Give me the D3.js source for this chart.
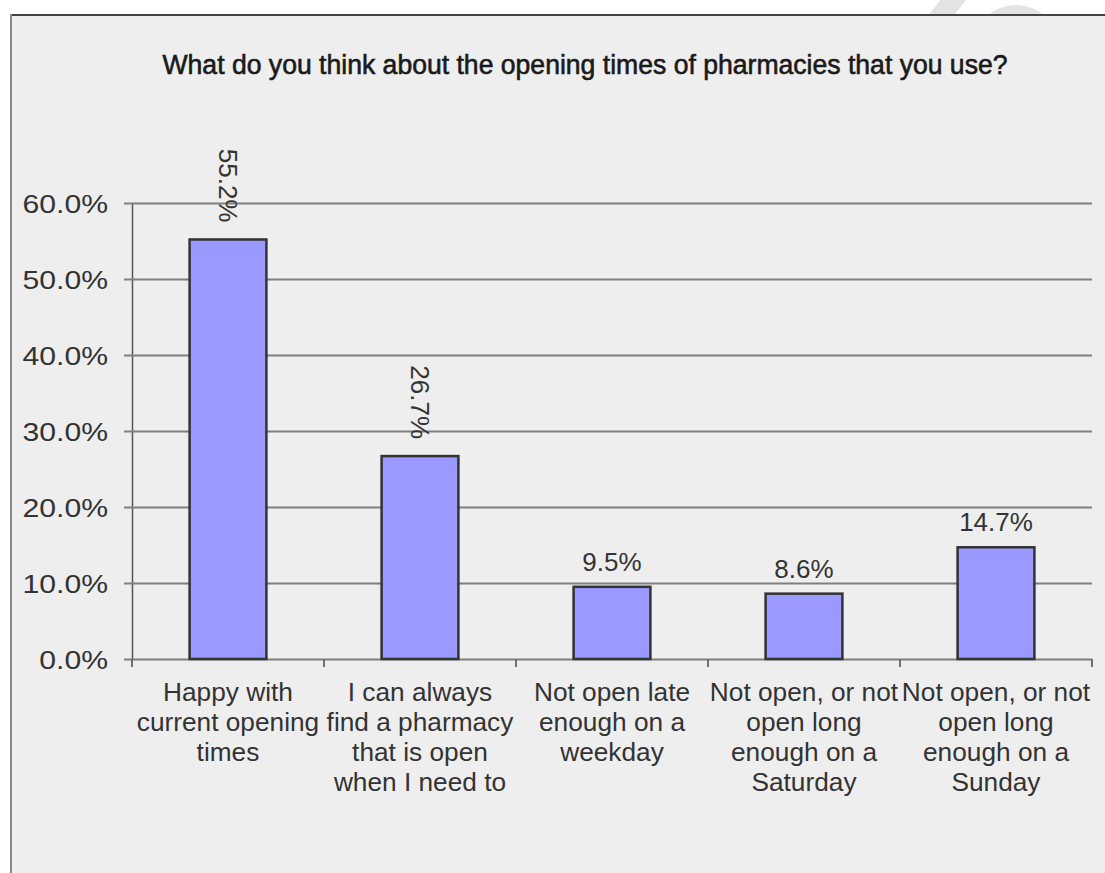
<!DOCTYPE html>
<html>
<head>
<meta charset="utf-8">
<script src="https://cdn.jsdelivr.net/npm/d3@7"></script>
<style>
  html, body { margin: 0; padding: 0; background: #ffffff; }
  svg { display: block; font-family: "Liberation Sans", Arial, sans-serif; }
</style>
</head>
<body>
<svg id="chart" width="1105" height="873"></svg>
<script>
// Survey responses: opinion on pharmacy opening times
const categories = [
  ["Happy with", "current opening", "times"],
  ["I can always", "find a pharmacy", "that is open", "when I need to"],
  ["Not open late", "enough on a", "weekday"],
  ["Not open, or not", "open long", "enough on a", "Saturday"],
  ["Not open, or not", "open long", "enough on a", "Sunday"]
];
const values = [55.2, 26.7, 9.5, 8.6, 14.7];
const yTicks = [0, 10, 20, 30, 40, 50, 60];
const rotatedLabel = [true, true, false, false, false];
const title = "What do you think about the opening times of pharmacies that you use?";

const svg = d3.select("#chart");
const ink = "#333333";

// widen a text element horizontally by a factor, keeping its anchor
function stretch(sel, k) {
  sel.each(function () {
    const w = this.getComputedTextLength();
    this.setAttribute("textLength", w * k);
    this.setAttribute("lengthAdjust", "spacingAndGlyphs");
  });
}

// faint background mark above the frame
svg.append("line")
  .attr("x1", 936).attr("y1", 22).attr("x2", 958).attr("y2", -6)
  .attr("stroke", "#e3e3e3").attr("stroke-width", 20);
svg.append("circle")
  .attr("cx", 1016).attr("cy", 48).attr("r", 43)
  .attr("fill", "#e3e3e3");

// chart frame
svg.append("rect")
  .attr("x", 11).attr("y", 15).attr("width", 1110).attr("height", 880)
  .attr("fill", "#eeeeee");
svg.append("line")
  .attr("x1", 11).attr("y1", 15).attr("x2", 1105).attr("y2", 15)
  .attr("stroke", "#444").attr("stroke-width", 2);
svg.append("line")
  .attr("x1", 11).attr("y1", 14).attr("x2", 11).attr("y2", 873)
  .attr("stroke", "#8a8a8a").attr("stroke-width", 2);

svg.append("text")
  .attr("x", 585).attr("y", 74)
  .attr("text-anchor", "middle")
  .attr("font-size", 27)
  .attr("fill", "#1a1a1a")
  .attr("stroke", "#1a1a1a")
  .attr("stroke-width", 0.6)
  .text(title)
  .call(s => s.each(function () {
    this.setAttribute("textLength", 845);
    this.setAttribute("lengthAdjust", "spacingAndGlyphs");
  }));

const x = d3.scaleBand()
  .domain(d3.range(values.length))
  .range([132, 1092])
  .paddingInner(0.6).paddingOuter(0.3);
const bandStep = x.step();

const y = d3.scaleLinear().domain([0, 60]).range([659, 203]);

// gridlines + y axis
const yAxis = d3.axisLeft(y)
  .tickValues(yTicks)
  .tickSize(-(1092 - 132))
  .tickSizeOuter(0)
  .tickFormat(d => d3.format(".1f")(d) + "%");
const gy = svg.append("g").attr("transform", "translate(132,0)").call(yAxis);
gy.select(".domain").attr("stroke", "#555").attr("stroke-width", 1.5);
gy.selectAll(".tick line")
  .attr("stroke", "#7f7f7f").attr("stroke-width", 2)
  .attr("x1", -8);
gy.selectAll(".tick text")
  .attr("x", -24).attr("dy", "0.36em")
  .attr("font-size", 26).attr("fill", ink)
  .attr("font-family", "'Liberation Sans', Arial, sans-serif")
  .call(stretch, 1.16);

// category separators on the x axis
const sep = d3.range(values.length + 1).map(i => 132 + i * bandStep);
svg.append("g").selectAll("line").data(sep).join("line")
  .attr("x1", d => d).attr("x2", d => d)
  .attr("y1", 659).attr("y2", 667)
  .attr("stroke", "#6f6f6f").attr("stroke-width", 2);

// bars
svg.append("g").selectAll("rect").data(values).join("rect")
  .attr("x", (d, i) => x(i))
  .attr("width", x.bandwidth())
  .attr("y", d => y(d))
  .attr("height", d => y(0) - y(d))
  .attr("fill", "#9999ff")
  .attr("stroke", "#333333")
  .attr("stroke-width", 2.5);

// value labels
const fmt = d => d3.format(".1f")(d) + "%";
values.forEach((v, i) => {
  const cx = x(i) + x.bandwidth() / 2;
  if (rotatedLabel[i]) {
    svg.append("text")
      .attr("transform", `translate(${cx},${y(v) - 17}) rotate(90)`)
      .attr("text-anchor", "end")
      .attr("dy", "0.36em")
      .attr("font-size", 26).attr("fill", ink)
      .text(fmt(v));
  } else {
    svg.append("text")
      .attr("x", cx).attr("y", y(v) - 16)
      .attr("text-anchor", "middle")
      .attr("font-size", 26).attr("fill", ink)
      .text(fmt(v));
  }
});

// category labels, one text element per line
categories.forEach((lines, i) => {
  const cx = 132 + (i + 0.5) * bandStep;
  lines.forEach((ln, j) => {
    svg.append("text")
      .attr("x", cx).attr("y", 701 + j * 30)
      .attr("text-anchor", "middle")
      .attr("font-size", 25).attr("fill", ink)
      .text(ln)
      .call(stretch, 1.05);
  });
});
</script>
</body>
</html>
